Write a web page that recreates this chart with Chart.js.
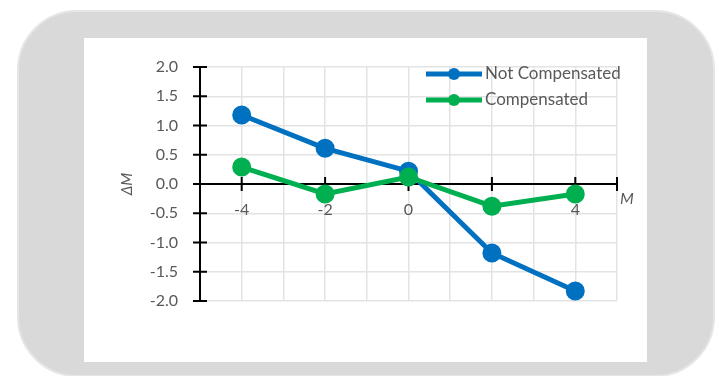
<!DOCTYPE html>
<html>
<head>
<meta charset="utf-8">
<script src="https://cdn.jsdelivr.net/npm/chart.js@4"></script>
<style>
  body { margin: 0; width: 719px; height: 376px; overflow: hidden; background: #fff; }
  #frame {
    position: absolute; left: 17px; top: 10px; width: 694px; height: 363px;
    background: #d9d9d9; border: 2px solid #e6e6e6; border-radius: 60px;
  }
  #paper { position: absolute; left: 84px; top: 38px; width: 563px; height: 324px; background: #fff; }
  #chart { position: absolute; left: 0; top: 0; }
</style>
</head>
<body>
<div id="frame"></div>
<div id="paper"></div>
<canvas id="chart" width="719" height="376"></canvas>
<script>
const xValues = [-4, -2, 0, 2, 4];
const notCompensated = [1.18, 0.61, 0.22, -1.18, -1.83];
const compensated = [0.29, -0.17, 0.12, -0.38, -0.17];
const seriesNames = ['Not Compensated', 'Compensated'];
const seriesColors = ['#0070c0', '#00b050'];
const xTickLabels = ['-4', '-2', '0', '2', '4'];
const xTickMarks = [-4, -2, 0, 2, 4, 5];
const yTickMarks = [-2, -1.5, -1, -0.5, 0, 0.5, 1, 1.5, 2];

const textColor = '#595959';
const fontName = 'Lato';

function toPoints(values) {
    return xValues.map((x, i) => ({ x: x, y: values[i] }));
}

// short tick marks that cross the axis lines
const crossTicks = {
    id: 'crossTicks',
    beforeDatasetsDraw(chart) {
        const ctx = chart.ctx;
        const xs = chart.scales.x;
        const ys = chart.scales.y;
        const y0 = ys.getPixelForValue(0);
        const x0 = chart.chartArea.left;
        ctx.save();
        ctx.strokeStyle = '#000';
        ctx.lineWidth = 2;
        ctx.beginPath();
        xTickMarks.forEach((v) => {
            const px = xs.getPixelForValue(v);
            ctx.moveTo(px, y0 - 7);
            ctx.lineTo(px, y0 + 7);
        });
        yTickMarks.forEach((v) => {
            const py = ys.getPixelForValue(v);
            ctx.moveTo(x0 - 7, py);
            ctx.lineTo(x0 + 7, py);
        });
        ctx.stroke();
        // x axis title at the end of the axis
        ctx.fillStyle = textColor;
        ctx.font = 'italic 16px ' + fontName;
        ctx.textAlign = 'left';
        ctx.textBaseline = 'middle';
        ctx.fillText('M', chart.chartArea.right + 3, y0 + 15);
        ctx.restore();
    }
};

// legend with line + marker sample, top right of the plot
const lineLegend = {
    id: 'lineLegend',
    afterDraw(chart) {
        const ctx = chart.ctx;
        const area = chart.chartArea;
        const startX = area.right - 191;
        ctx.save();
        chart.data.datasets.forEach((ds, i) => {
            const y = area.top + 7 + i * 26;
            ctx.strokeStyle = ds.borderColor;
            ctx.lineWidth = 5;
            ctx.beginPath();
            ctx.moveTo(startX, y);
            ctx.lineTo(startX + 56, y);
            ctx.stroke();
            ctx.fillStyle = ds.borderColor;
            ctx.beginPath();
            ctx.arc(startX + 28, y, 6, 0, Math.PI * 2);
            ctx.fill();
            ctx.fillStyle = textColor;
            ctx.font = '17px ' + fontName;
            ctx.textAlign = 'left';
            ctx.textBaseline = 'middle';
            ctx.fillText(ds.label, startX + 59, y);
        });
        ctx.restore();
    }
};

new Chart(document.getElementById('chart'), {
    type: 'scatter',
    data: {
        datasets: [
            {
                label: seriesNames[0],
                data: toPoints(notCompensated),
                borderColor: seriesColors[0],
                backgroundColor: seriesColors[0],
                showLine: true,
                borderWidth: 5,
                pointRadius: 7,
                order: 2
            },
            {
                label: seriesNames[1],
                data: toPoints(compensated),
                borderColor: seriesColors[1],
                backgroundColor: seriesColors[1],
                showLine: true,
                borderWidth: 5,
                pointRadius: 7,
                order: 1
            }
        ]
    },
    options: {
        responsive: false,
        animation: false,
        layout: { padding: { left: 118, top: 67, right: 102, bottom: 75 } },
        plugins: {
            legend: { display: false },
            tooltip: { enabled: false }
        },
        scales: {
            x: {
                type: 'linear',
                position: { y: 0 },
                min: -5,
                max: 5,
                afterFit: (scale) => { scale.height = 0; },
                grid: { color: '#e3e3e3', lineWidth: 1.5, drawTicks: false },
                border: { color: '#000', width: 2 },
                ticks: {
                    stepSize: 1,
                    autoSkip: false,
                    maxRotation: 0,
                    padding: 16,
                    color: textColor,
                    font: { family: fontName, size: 16 },
                    callback: (v) => {
                        const i = xValues.indexOf(v);
                        return i >= 0 ? xTickLabels[i] : '';
                    }
                }
            },
            y: {
                min: -2,
                max: 2,
                afterFit: (scale) => { scale.width = 82; },
                grid: { color: '#e3e3e3', lineWidth: 1.5, drawTicks: false },
                border: { color: '#000', width: 2 },
                title: {
                    display: true,
                    text: 'ΔM',
                    color: textColor,
                    padding: 0,
                    font: { family: fontName, size: 15, style: 'italic' }
                },
                ticks: {
                    stepSize: 0.5,
                    padding: 22,
                    color: textColor,
                    font: { family: fontName, size: 16 },
                    callback: (v) => v.toFixed(1)
                }
            }
        }
    },
    plugins: [crossTicks, lineLegend]
});
</script>
</body>
</html>
